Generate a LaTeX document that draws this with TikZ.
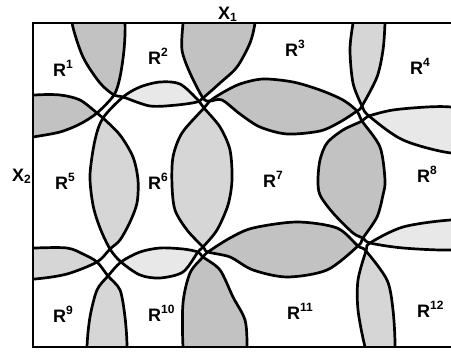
\documentclass[tikz,border=0pt]{standalone}
\usepackage{fontspec}
\setmainfont{Liberation Sans}
\newcommand\CellA[1]{#1 plot[smooth cycle] coordinates {(40,-45) (100,-35) (121,-8) (125,23) (124,50) (120,77) (114,95) (97,113) (80,124) (60,132) (33,137) (0,142) (-40,125) (-55,50) (-25,-20)};}
\newcommand\CellB[1]{#1 plot[smooth cycle] coordinates {(160,-45) (240,-30) (257,0) (255,23) (250,43) (237,67) (220,83) (203,98) (197,102) (177,105) (150,106) (123,97) (114,95) (100,83) (83,57) (72,23) (71,-5) (90,-32)};}
\newcommand\CellC[1]{#1 plot[smooth cycle] coordinates {(290,-45) (370,-28) (385,0) (385,23) (383,50) (377,77) (362,106) (357,111) (340,122) (320,131) (287,134) (260,127) (240,114) (222,100) (210,101) (203,98) (190,73) (182,50) (183,23) (186,-5) (210,-30)};}
\newcommand\CellD[1]{#1 plot[smooth cycle] coordinates {(400,-35) (470,-30) (510,20) (520,100) (490,150) (451,153) (403,140) (369,116) (362,106) (353,83) (350,50) (353,23) (358,-5)};}
\newcommand\CellE[1]{#1 plot[smooth cycle] coordinates {(-40,120) (0,99) (35,95) (60,95) (80,100) (97,113) (103,118) (120,135) (133,157) (138,180) (137,203) (130,222) (120,240) (110,249) (97,262) (67,274) (35,279) (0,280) (-40,250) (-55,185)};}
\newcommand\CellF[1]{#1 plot[smooth cycle] coordinates {(123,97) (140,87) (160,82) (180,84) (198,100) (204,108) (220,127) (230,150) (232,180) (228,205) (217,230) (203,247) (198,252) (183,272) (160,278) (140,275) (121,262) (110,249) (100,228) (93,205) (90,175) (95,140) (103,118)};}
\newcommand\CellG[1]{#1 plot[smooth cycle] coordinates {(210,101) (222,93) (240,84) (263,79) (293,82) (320,90) (343,100) (357,111) (362,121) (380,147) (385,180) (383,195) (377,217) (363,238) (358,246) (327,270) (287,277) (253,270) (230,257) (208,252) (203,247) (187,230) (175,210) (172,185) (173,157) (182,133) (204,108)};}
\newcommand\CellH[1]{#1 plot[smooth cycle] coordinates {(369,116) (393,110) (427,107) (451,107) (490,112) (515,180) (490,245) (451,250) (403,248) (370,243) (363,238) (353,233) (333,213) (320,195) (318,180) (320,160) (327,143) (343,130) (362,121)};}
\newcommand\CellI[1]{#1 plot[smooth cycle] coordinates {(-30,255) (0,250) (35,248) (67,248) (83,254) (97,262) (108,276) (120,290) (125,317) (127,347) (125,380) (60,410) (-20,390) (-50,320)};}
\newcommand\CellJ[1]{#1 plot[smooth cycle] coordinates {(121,262) (140,252) (160,248) (183,249) (198,252) (203,257) (220,270) (233,297) (245,320) (247,347) (245,380) (200,410) (130,410) (88,380) (87,347) (90,317) (97,290) (108,276)};}
\newcommand\CellK[1]{#1 plot[smooth cycle] coordinates {(208,252) (230,238) (253,228) (297,222) (337,228) (358,246) (366,251) (387,280) (393,310) (395,347) (392,380) (300,410) (187,380) (183,347) (183,303) (190,273) (203,257)};}
\newcommand\CellL[1]{#1 plot[smooth cycle] coordinates {(370,243) (403,227) (451,220) (490,222) (520,280) (510,380) (420,400) (375,380) (365,347) (358,310) (358,280) (366,251)};}
\newcommand\Rlab[1]{R\raisebox{8pt}{\fontsize{12}{12}\selectfont\bfseries #1}}
\newcommand\Xlab[1]{X\raisebox{-2pt}{\fontsize{12}{12}\selectfont\bfseries #1}}
\begin{document}
\begin{tikzpicture}[x=1pt,y=-1pt,
  dense/.style={fill=black!24},
  medium/.style={fill=black!16},
  light/.style={fill=black!9},
  cell/.style={line width=2.7pt,line join=round},
  frame/.style={line width=2.8pt},
  lab/.style={font=\fontsize{18}{18}\selectfont\bfseries,anchor=base west,inner sep=0pt}]
\useasboundingbox (0,0) rectangle (451,352);
\begin{scope}
\clip (33,23) rectangle (470,347);
\begin{scope}\CellA{\clip}\CellB{\fill[dense]}\end{scope}
\begin{scope}\CellB{\clip}\CellC{\fill[dense]}\end{scope}
\begin{scope}\CellC{\clip}\CellD{\fill[medium]}\end{scope}
\begin{scope}\CellA{\clip}\CellE{\fill[dense]}\end{scope}
\begin{scope}\CellB{\clip}\CellF{\fill[light]}\end{scope}
\begin{scope}\CellC{\clip}\CellG{\fill[dense]}\end{scope}
\begin{scope}\CellD{\clip}\CellH{\fill[light]}\end{scope}
\begin{scope}\CellE{\clip}\CellF{\fill[medium]}\end{scope}
\begin{scope}\CellF{\clip}\CellG{\fill[medium]}\end{scope}
\begin{scope}\CellG{\clip}\CellH{\fill[dense]}\end{scope}
\begin{scope}\CellE{\clip}\CellI{\fill[medium]}\end{scope}
\begin{scope}\CellF{\clip}\CellJ{\fill[light]}\end{scope}
\begin{scope}\CellG{\clip}\CellK{\fill[dense]}\end{scope}
\begin{scope}\CellH{\clip}\CellL{\fill[light]}\end{scope}
\begin{scope}\CellI{\clip}\CellJ{\fill[medium]}\end{scope}
\begin{scope}\CellJ{\clip}\CellK{\fill[dense]}\end{scope}
\begin{scope}\CellK{\clip}\CellL{\fill[medium]}\end{scope}
\CellA{\draw[cell]}\CellB{\draw[cell]}\CellC{\draw[cell]}\CellD{\draw[cell]}
\CellE{\draw[cell]}\CellF{\draw[cell]}\CellG{\draw[cell]}\CellH{\draw[cell]}
\CellI{\draw[cell]}\CellJ{\draw[cell]}\CellK{\draw[cell]}\CellL{\draw[cell]}
\end{scope}
\draw[frame] (470,23) -- (33,23) -- (33,347) -- (470,347);
\node[lab] (x1) at (218,20) {\Xlab{1}};
\node[lab] (x2) at (12,182) {\Xlab{2}};
\node[lab] (r1) at (53,77) {\Rlab{1}};
\node[lab] (r2) at (148,65) {\Rlab{2}};
\node[lab] (r3) at (285,57) {\Rlab{3}};
\node[lab] (r4) at (410,75) {\Rlab{4}};
\node[lab] (r5) at (55,190) {\Rlab{5}};
\node[lab] (r6) at (148,190) {\Rlab{6}};
\node[lab] (r7) at (263,188) {\Rlab{7}};
\node[lab] (r8) at (417,183) {\Rlab{8}};
\node[lab] (r9) at (53,323) {\Rlab{9}};
\node[lab] (r10) at (148,322) {\Rlab{10}};
\node[lab] (r11) at (287,320) {\Rlab{11}};
\node[lab] (r12) at (417,318) {\Rlab{12}};
\end{tikzpicture}
\end{document}
